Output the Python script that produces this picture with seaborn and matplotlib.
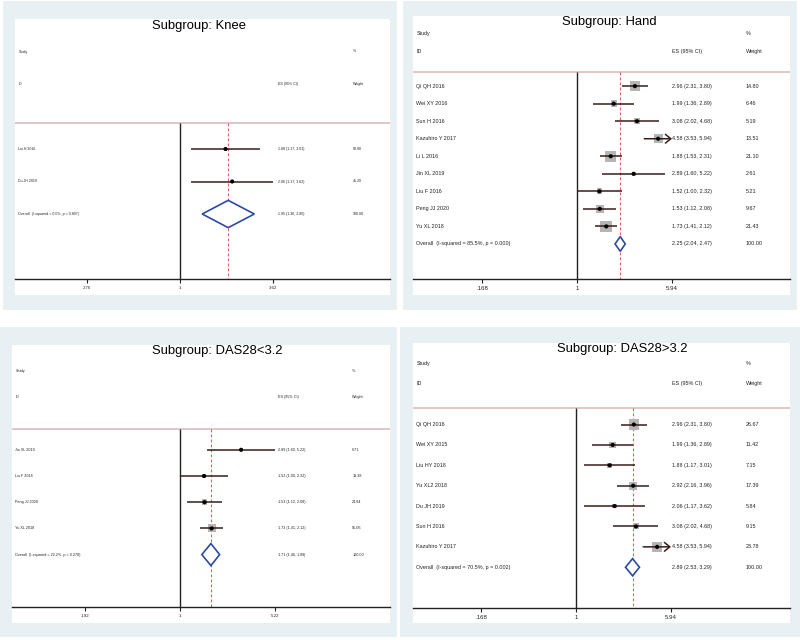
import numpy as np
import pandas as pd
import matplotlib.pyplot as plt
import seaborn as sns
from matplotlib.patches import Rectangle
from matplotlib.transforms import blended_transform_factory

# ---- data ----
knee_study = ['Liu H 2016', 'Du JH 2019']
knee_es = [1.88, 2.06]
knee_lo = [1.17, 1.17]
knee_hi = [3.01, 3.62]
knee_w = [58.80, 41.20]
knee_arrow = [False, False]
knee_overall = [1.95, 1.36, 2.80]
knee_label = 'Overall  (I-squared = 0.0%, p = 0.807)'

hand_study = ['Qi QH 2016', 'Wei XY 2016', 'Sun H 2016', 'Kazuhiro Y 2017', 'Li L 2016',
              'Jin XL 2019', 'Liu F 2016', 'Peng JJ 2020', 'Yu XL 2018']
hand_es = [2.96, 1.99, 3.08, 4.58, 1.88, 2.89, 1.52, 1.53, 1.73]
hand_lo = [2.31, 1.36, 2.02, 3.53, 1.53, 1.60, 1.00, 1.12, 1.41]
hand_hi = [3.80, 2.89, 4.68, 5.94, 2.31, 5.22, 2.32, 2.08, 2.12]
hand_w = [14.80, 6.46, 5.19, 13.51, 21.10, 2.61, 5.21, 9.67, 21.43]
hand_arrow = [False, False, False, True, False, False, False, False, False]
hand_overall = [2.25, 2.04, 2.47]
hand_label = 'Overall  (I-squared = 85.5%, p = 0.000)'

low_study = ['Jin XL 2019', 'Liu F 2016', 'Peng JJ 2020', 'Yu XL 2018']
low_es = [2.89, 1.52, 1.53, 1.73]
low_lo = [1.60, 1.00, 1.12, 1.41]
low_hi = [5.22, 2.32, 2.08, 2.12]
low_w = [6.71, 13.38, 24.84, 55.06]
low_arrow = [False, False, False, False]
low_overall = [1.71, 1.46, 1.99]
low_label = 'Overall  (I-squared = 22.2%, p = 0.278)'

high_study = ['Qi QH 2016', 'Wei XY 2015', 'Liu HY 2018', 'Yu XL2 2018', 'Du JH 2019',
              'Sun H 2016', 'Kazuhiro Y 2017']
high_es = [2.96, 1.99, 1.88, 2.92, 2.06, 3.08, 4.58]
high_lo = [2.31, 1.36, 1.17, 2.16, 1.17, 2.02, 3.53]
high_hi = [3.80, 2.89, 3.01, 3.96, 3.62, 4.68, 5.94]
high_w = [26.67, 11.42, 7.15, 17.39, 5.84, 9.15, 23.78]
high_arrow = [False, False, False, False, False, False, True]
high_overall = [2.89, 2.53, 3.29]
high_label = 'Overall  (I-squared = 70.5%, p = 0.002)'

sns.set_theme(style='white')
plt.rcParams['font.family'] = ['Liberation Sans', 'DejaVu Sans']

W, H = 800, 640
fig = plt.figure(figsize=(8, 6.4), dpi=100)
fig.patch.set_facecolor('white')

BG = '#e9f0f3'
LINE = '#3a1c1c'


def px_rect(x0, y0, x1, y1, color):
    fig.patches.append(Rectangle((x0 / W, 1 - y1 / H), (x1 - x0) / W, (y1 - y0) / H,
                                 transform=fig.transFigure, facecolor=color,
                                 edgecolor='none', zorder=-10))


def fmt_tick(v):
    if abs(v - 1) < 1e-9:
        return '1'
    if v < 1:
        return f'{v:.3f}'.lstrip('0')
    return f'{v:.2f}'


def forest(title, study, es, lo, hi, w, arrow, overall, label,
           outer, inner, axis_y, title_xy, xlim, fs, box_k, es_x, w_x):
    px_rect(*outer, BG)
    px_rect(*inner, 'white')
    x0, y0, x1, _ = inner
    ax = fig.add_axes([x0 / W, 1 - axis_y / H, (x1 - x0) / W, (axis_y - y0) / H])
    ax.set_facecolor('none')
    ax.set_xscale('log')
    n = len(study)
    rows = np.arange(3, 3 + n)
    ov_row = 3 + n
    ax.set_xlim(*xlim)
    ax.set_ylim(n + 5, -1)

    df = pd.DataFrame({'study': study, 'es': es, 'lo': lo, 'hi': hi, 'w': w, 'row': rows})
    c = 0.5184 * box_k ** 2
    sns.scatterplot(data=df, x='es', y='row', size='w', sizes=(c * min(w), c * max(w)),
                    size_norm=(min(w), max(w)), marker='s', color='#b5b5b5',
                    edgecolor='none', legend=False, ax=ax, zorder=2)
    for r, l, h, a in zip(rows, lo, hi, arrow):
        if a:
            ax.annotate('', xy=(h, r), xytext=(l, r), zorder=3,
                        arrowprops=dict(arrowstyle='->,head_length=0.55,head_width=0.45',
                                        color=LINE, lw=1.1, shrinkA=0, shrinkB=0,
                                        mutation_scale=7))
        else:
            ax.hlines(r, l, h, color=LINE, lw=1.1, zorder=3)
    sns.scatterplot(data=df, x='es', y='row', marker='o', color='black', s=9,
                    edgecolor='none', legend=False, ax=ax, zorder=4)

    # pooled diamond
    o_es, o_lo, o_hi = overall
    dh = 0.42
    ax.fill([o_lo, o_es, o_hi, o_es, o_lo], [ov_row, ov_row - dh, ov_row, ov_row + dh, ov_row],
            facecolor='white', edgecolor='#2b4aa3', lw=1.2, zorder=3)

    sep = 2.2
    ax.axhline(sep, color='#dcc3c3', lw=1.3, zorder=1)
    ax.vlines(1, sep, n + 5, color='#222222', lw=1.0, zorder=1)
    ax.vlines(o_es, sep, n + 5, color='#d9605c', lw=0.8, linestyles=(0, (2.5, 2)), zorder=1)

    tr = blended_transform_factory(ax.transAxes, ax.transData)
    tk = dict(transform=tr, fontsize=fs, va='center', ha='left', color='#222222')
    ax.text(0.009, 0, 'Study', **tk)
    ax.text(0.009, 1, 'ID', **tk)
    ax.text(es_x, 1, 'ES (95% CI)', **tk)
    ax.text(w_x, 0, '%', **tk)
    ax.text(w_x, 1, 'Weight', **tk)
    for r, s, e, l, h, wt in zip(rows, study, es, lo, hi, w):
        ax.text(0.009, r, s, **tk)
        ax.text(es_x, r, f'{e:.2f} ({l:.2f}, {h:.2f})', **tk)
        ax.text(w_x, r, f'{wt:.2f}', **tk)
    ax.text(0.009, ov_row, label, **tk)
    ax.text(es_x, ov_row, f'{o_es:.2f} ({o_lo:.2f}, {o_hi:.2f})', **tk)
    ax.text(w_x, ov_row, f'{100:.2f}', **tk)

    top = max(hi)
    ax.set_xticks([1 / top, 1, top])
    ax.set_xticklabels([fmt_tick(v) for v in [1 / top, 1, top]])
    ax.minorticks_off()
    ax.tick_params(axis='x', bottom=True, length=3, width=0.8, labelsize=fs + 0.5,
                   pad=2, colors='#222222')
    ax.set_yticks([])
    ax.set_xlabel('')
    ax.set_ylabel('')
    for sp in ['left', 'right', 'top']:
        ax.spines[sp].set_visible(False)
    ax.spines['bottom'].set_color('#222222')
    ax.spines['bottom'].set_linewidth(1.0)

    fig.text(title_xy[0] / W, 1 - title_xy[1] / H, title, fontsize=9.4, ha='left',
             va='center', color='black')


forest('Subgroup: Knee', knee_study, knee_es, knee_lo, knee_hi, knee_w, knee_arrow,
       knee_overall, knee_label, outer=(3, 1, 397, 310), inner=(15, 19, 390, 295),
       axis_y=279, title_xy=(152, 26), xlim=(0.102, 18.3), fs=2.6, box_k=0.45,
       es_x=0.70, w_x=0.90)
forest('Subgroup: Hand', hand_study, hand_es, hand_lo, hand_hi, hand_w, hand_arrow,
       hand_overall, hand_label, outer=(403, 1, 797, 310), inner=(413, 16, 790, 295),
       axis_y=279, title_xy=(562, 22), xlim=(0.046, 54.4), fs=3.9, box_k=2.5,
       es_x=0.688, w_x=0.882)
forest('Subgroup: DAS28<3.2', low_study, low_es, low_lo, low_hi, low_w, low_arrow,
       low_overall, low_label, outer=(0, 327, 397, 637), inner=(12, 345, 390, 623),
       axis_y=607, title_xy=(152, 351), xlim=(0.0538, 38.5), fs=2.7, box_k=1.1,
       es_x=0.705, w_x=0.90)
forest('Subgroup: DAS28>3.2', high_study, high_es, high_lo, high_hi, high_w, high_arrow,
       high_overall, high_label, outer=(400, 327, 800, 637), inner=(413, 343, 790, 623),
       axis_y=608, title_xy=(557, 349), xlim=(0.047, 55.4), fs=3.9, box_k=2.0,
       es_x=0.688, w_x=0.882)

fig.savefig('out.png', dpi=100, facecolor='white')
